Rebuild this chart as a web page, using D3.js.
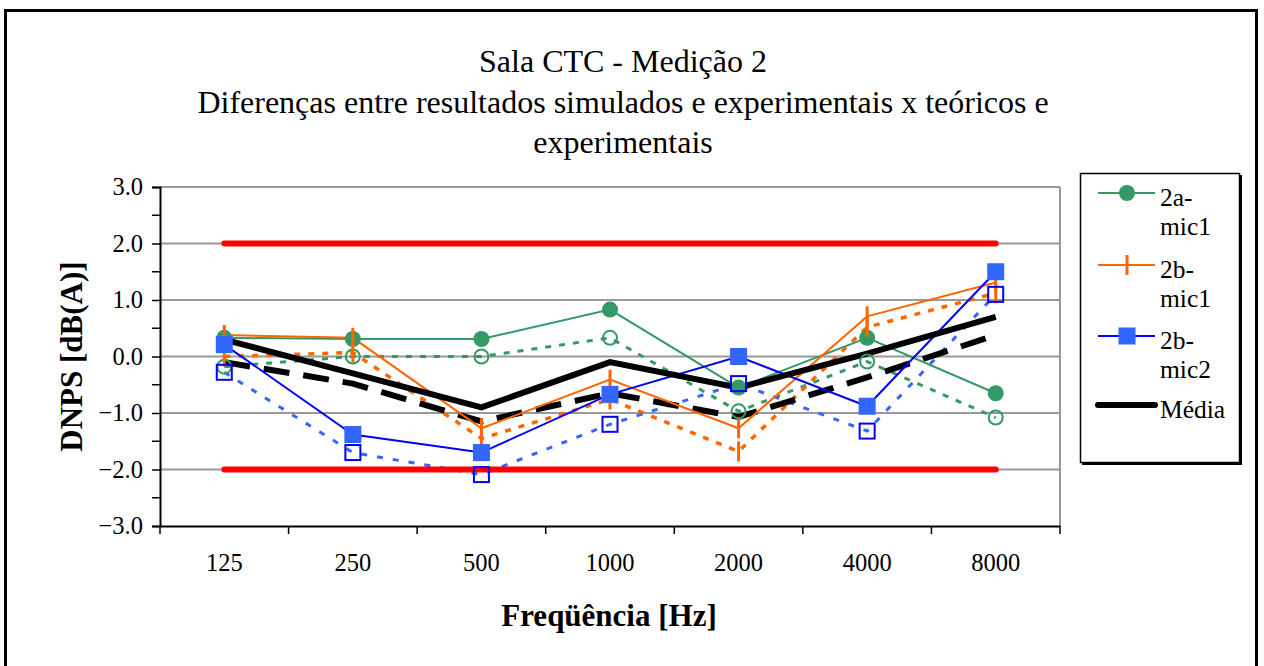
<!DOCTYPE html>
<html lang="pt">
<head>
  <meta charset="utf-8">
  <title>Sala CTC - Medição 2</title>
  <style>
    body { margin: 0; background: #fff; }
    svg text { font-family: "Liberation Serif", "Times New Roman", serif; }
  </style>
</head>
<body>
  <div id="chart"></div>

  <script src="https://d3js.org/d3.v7.min.js"></script>
  <script type="text/javascript">
    const freqs = ['125', '250', '500', '1000', '2000', '4000', '8000'];
    const yTicks = [-3, -2, -1, 0, 1, 2, 3];

    // measured series (solid) and their dotted counterparts
    const a_mic1 = [0.33, 0.31, 0.31, 0.83, -0.55, 0.33, -0.65];
    const a_mic1_b = [-0.18, 0.0, 0.0, 0.33, -0.97, -0.09, -1.08];
    const b_mic1 = [0.38, 0.33, -1.27, -0.41, -1.27, 0.71, 1.31];
    const b_mic1_b = [0.0, 0.07, -1.45, -0.76, -1.68, 0.52, 1.12];
    const b_mic2 = [0.21, -1.38, -1.70, -0.67, 0.0, -0.88, 1.50];
    const b_mic2_b = [-0.28, -1.70, -2.09, -1.20, -0.48, -1.32, 1.10];
    const media = [0.30, -0.30, -0.90, -0.10, -0.55, 0.05, 0.70];
    const media_b = [-0.10, -0.48, -1.15, -0.65, -1.07, -0.37, 0.38];
    const upperLimit = [2, 2, 2, 2, 2, 2, 2];
    const lowerLimit = [-2, -2, -2, -2, -2, -2, -2];

    const width = 1264;
    const height = 666;
    const margin = { top: 187, right: 204, bottom: 140, left: 160 };
    const serif = '"Liberation Serif", "Times New Roman", serif';

    const svg = d3.select('#chart').append('svg')
      .attr('width', width)
      .attr('height', height);

    // outer frame
    svg.append('rect')
      .attr('x', 5.5).attr('y', 10.5)
      .attr('width', 1251).attr('height', 700)
      .attr('fill', 'none').attr('stroke', '#000').attr('stroke-width', 3);

    const x = d3.scaleBand()
      .domain(freqs)
      .range([margin.left, width - margin.right]);
    const y = d3.scaleLinear()
      .domain([-3, 3])
      .range([height - margin.bottom, margin.top]);
    const cx = d => x(d) + x.bandwidth() / 2;

    // grid
    svg.append('g')
      .selectAll('line')
      .data(yTicks.filter(d => d > -3))
      .join('line')
      .attr('x1', margin.left).attr('x2', width - margin.right)
      .attr('y1', d => y(d)).attr('y2', d => y(d))
      .attr('stroke', '#999').attr('stroke-width', 2);
    svg.append('line')
      .attr('x1', width - margin.right).attr('x2', width - margin.right)
      .attr('y1', y(3)).attr('y2', y(-3))
      .attr('stroke', '#999').attr('stroke-width', 2);

    // y axis
    const yAxis = d3.axisLeft(y)
      .tickValues(yTicks)
      .tickFormat(d3.format('.1f'))
      .tickSize(8)
      .tickPadding(9);
    const gy = svg.append('g')
      .attr('transform', `translate(${margin.left},0)`)
      .call(yAxis);
    gy.append('g')
      .selectAll('line')
      .data(d3.range(-2.5, 3, 1))
      .join('line')
      .attr('x1', -8).attr('x2', 0)
      .attr('y1', d => y(d)).attr('y2', d => y(d))
      .attr('stroke', '#000').attr('stroke-width', 1.5);

    // x axis
    const xAxis = d3.axisBottom(x).tickSize(0).tickPadding(28);
    const gx = svg.append('g')
      .attr('transform', `translate(0,${y(-3)})`)
      .call(xAxis);
    gx.append('g')
      .selectAll('line')
      .data(freqs.concat(['end']))
      .join('line')
      .attr('x1', (d, i) => margin.left + i * x.bandwidth())
      .attr('x2', (d, i) => margin.left + i * x.bandwidth())
      .attr('y1', 0).attr('y2', 8)
      .attr('stroke', '#000').attr('stroke-width', 1.5);

    [gx, gy].forEach(g => {
      g.select('.domain').attr('stroke', '#000').attr('stroke-width', 2);
      g.selectAll('.tick line').attr('stroke', '#000').attr('stroke-width', 1.5);
      g.selectAll('text')
        .attr('font-family', serif)
        .attr('font-size', 24.5)
        .attr('fill', '#000');
    });

    const line = d3.line()
      .x((d, i) => cx(freqs[i]))
      .y(d => y(d));

    const plot = svg.append('g');

    function drawLine(values, color, w, dash, cap) {
      plot.append('path')
        .datum(values)
        .attr('d', line)
        .attr('fill', 'none')
        .attr('stroke', color)
        .attr('stroke-width', w)
        .attr('stroke-dasharray', dash || null)
        .attr('stroke-linecap', cap || 'butt')
        .attr('stroke-linejoin', 'miter');
    }

    // dotted (second) series
    drawLine(a_mic1_b, '#339966', 3, '6,8');
    drawLine(b_mic1_b, '#FF6600', 3.5, '6,8');
    drawLine(b_mic2_b, '#3366FF', 3, '6,10');
    drawLine(media_b, '#000', 6, '26,14');

    // solid series
    drawLine(a_mic1, '#339966', 2);
    drawLine(b_mic1, '#FF6600', 2);
    drawLine(b_mic2, '#0000FF', 2);
    drawLine(media, '#000', 6);

    // limits
    drawLine(upperLimit, '#FF0000', 6, null, 'round');
    drawLine(lowerLimit, '#FF0000', 6, null, 'round');

    // markers
    plot.append('g').selectAll('circle')
      .data(a_mic1_b).join('circle')
      .attr('cx', (d, i) => cx(freqs[i])).attr('cy', d => y(d))
      .attr('r', 7).attr('fill', 'none')
      .attr('stroke', '#339966').attr('stroke-width', 2);
    plot.append('g').selectAll('circle')
      .data(a_mic1).join('circle')
      .attr('cx', (d, i) => cx(freqs[i])).attr('cy', d => y(d))
      .attr('r', 8).attr('fill', '#339966');
    [b_mic1, b_mic1_b].forEach(s => {
      plot.append('g').selectAll('line')
        .data(s).join('line')
        .attr('x1', (d, i) => cx(freqs[i])).attr('x2', (d, i) => cx(freqs[i]))
        .attr('y1', d => y(d) - 10).attr('y2', d => y(d) + 10)
        .attr('stroke', '#FF6600').attr('stroke-width', 3);
    });
    plot.append('g').selectAll('rect')
      .data(b_mic2_b).join('rect')
      .attr('x', (d, i) => cx(freqs[i]) - 7.5).attr('y', d => y(d) - 7.5)
      .attr('width', 15).attr('height', 15)
      .attr('fill', 'none').attr('stroke', '#0000FF').attr('stroke-width', 2);
    plot.append('g').selectAll('rect')
      .data(b_mic2).join('rect')
      .attr('x', (d, i) => cx(freqs[i]) - 8.5).attr('y', d => y(d) - 8.5)
      .attr('width', 17).attr('height', 17)
      .attr('fill', '#3366FF');

    // titles
    const titleLines = [
      'Sala CTC - Medição 2',
      'Diferenças entre resultados simulados e experimentais x teóricos e',
      'experimentais'
    ];
    svg.append('g').selectAll('text')
      .data(titleLines).join('text')
      .attr('x', 623).attr('y', (d, i) => 72 + i * 40.5)
      .attr('text-anchor', 'middle')
      .attr('font-family', serif)
      .attr('font-size', 32)
      .text(d => d);

    svg.append('text')
      .attr('x', 609).attr('y', 626)
      .attr('text-anchor', 'middle')
      .attr('font-family', serif)
      .attr('font-size', 31).attr('font-weight', 'bold')
      .text('Freqüência [Hz]');
    svg.append('text')
      .attr('transform', `translate(82,${y(0)}) rotate(-90)`)
      .attr('text-anchor', 'middle')
      .attr('font-family', serif)
      .attr('font-size', 31).attr('font-weight', 'bold')
      .text('DNPS [dB(A)]');

    // legend
    const legend = svg.append('g');
    legend.append('rect')
      .attr('x', 1082).attr('y', 175).attr('width', 160).attr('height', 290)
      .attr('fill', '#000');
    legend.append('rect')
      .attr('x', 1080.5).attr('y', 173.5).attr('width', 159).attr('height', 289)
      .attr('fill', '#fff').attr('stroke', '#000').attr('stroke-width', 1.5);

    const legendItems = [
      { label: ['2a-', 'mic1'], color: '#339966', marker: 'circle', w: 2 },
      { label: ['2b-', 'mic1'], color: '#FF6600', marker: 'bar', w: 2 },
      { label: ['2b-', 'mic2'], color: '#0000FF', marker: 'square', w: 2 },
      { label: ['Média'], color: '#000', marker: null, w: 6 }
    ];
    const ly = [193, 265, 336, 405];
    legendItems.forEach((it, i) => {
      const g = legend.append('g').attr('transform', `translate(0,${ly[i]})`);
      g.append('line')
        .attr('x1', 1098).attr('x2', 1155).attr('y1', 0).attr('y2', 0)
        .attr('stroke', it.color).attr('stroke-width', it.w)
        .attr('stroke-linecap', it.marker ? 'butt' : 'round');
      if (it.marker === 'circle') {
        g.append('circle').attr('cx', 1127).attr('cy', 0).attr('r', 8).attr('fill', it.color);
      } else if (it.marker === 'bar') {
        g.append('line').attr('x1', 1127).attr('x2', 1127).attr('y1', -10).attr('y2', 10)
          .attr('stroke', it.color).attr('stroke-width', 3);
      } else if (it.marker === 'square') {
        g.append('rect').attr('x', 1118.5).attr('y', -8.5).attr('width', 17).attr('height', 17)
          .attr('fill', '#3366FF');
      }
      g.selectAll('text.lbl')
        .data(it.label).join('text')
        .attr('class', 'lbl')
        .attr('x', 1160).attr('y', (d, j) => 13 + j * 29)
        .attr('font-family', serif)
        .attr('font-size', 25.5)
        .text(d => d);
    });
  </script>
</body>
</html>
